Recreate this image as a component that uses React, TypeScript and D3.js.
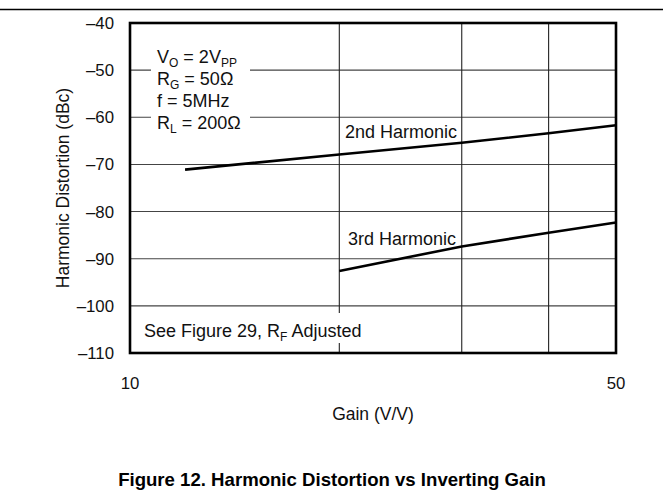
import * as d3 from 'd3';

const gain2nd = [12, 20, 30, 40, 50];
const hd2nd = [-71.1, -67.9, -65.4, -63.4, -61.7];
const gain3rd = [20, 30, 40, 50];
const hd3rd = [-92.6, -87.4, -84.5, -82.3];
const yTicks = [-40, -50, -60, -70, -80, -90, -100, -110];
const xGrid = [20, 30, 40];
const xTickLabels = [10, 50];

const W = 663;
const H = 495;
const FONT = 'Liberation Sans, Arial, sans-serif';

export default function App() {
  const x = d3.scaleLog().domain([10, 50]).range([130, 616]);
  const y = d3.scaleLinear().domain([-110, -40]).range([353, 23]);
  const line = d3
    .line<[number, number]>()
    .x((d) => x(d[0]))
    .y((d) => y(d[1]));
  const pts2 = gain2nd.map((g, i) => [g, hd2nd[i]] as [number, number]);
  const pts3 = gain3rd.map((g, i) => [g, hd3rd[i]] as [number, number]);

  return (
    <div style={{ position: 'fixed', left: 0, top: 0 }}>
      <svg width={W} height={H} viewBox={`0 0 ${W} ${H}`} style={{ display: 'block', background: '#fff' }} fontFamily={FONT}>
        <line x1={0} x2={W} y1={9.5} y2={9.5} stroke="#000" strokeWidth={1.6} />

        {/* grid */}
        {yTicks.slice(1, -1).map((t) => (
          <line key={t} x1={130} x2={616} y1={y(t)} y2={y(t)} stroke="#444" strokeWidth={1.1} />
        ))}
        {xGrid.map((g) => (
          <line key={g} x1={x(g)} x2={x(g)} y1={23} y2={353} stroke="#222" strokeWidth={1.1} />
        ))}

        {/* annotation backgrounds */}
        <rect x={151} y={45} width={99} height={88} fill="#fff" />
        <rect x={140} y={313} width={228} height={30} fill="#fff" />

        <path d={line(pts2) ?? undefined} fill="none" stroke="#000" strokeWidth={2.6} />
        <path d={line(pts3) ?? undefined} fill="none" stroke="#000" strokeWidth={2.6} />

        <rect x={130} y={23} width={486} height={330} fill="none" stroke="#000" strokeWidth={2.6} />

        {yTicks.map((t) => (
          <text key={t} x={114} y={y(t)} dy="0.36em" textAnchor="end" fontSize={16.8} fill="#111">
            {`\u2013${Math.abs(t)}`}
          </text>
        ))}
        {xTickLabels.map((t) => (
          <text key={t} x={x(t)} y={389} textAnchor="middle" fontSize={16.8} fill="#111">
            {t}
          </text>
        ))}
        <text x={373} y={420} textAnchor="middle" fontSize={17.5} fill="#111">Gain (V/V)</text>
        <text transform="translate(69,188) rotate(-90)" textAnchor="middle" fontSize={17.5} fill="#111">
          Harmonic Distortion (dBc)
        </text>

        <g fontSize={18} fill="#111">
          <text x={157} y={63}>
            V<tspan fontSize={12} dy={4}>O</tspan>
            <tspan dy={-4}> = 2V</tspan>
            <tspan fontSize={12} dy={4}>PP</tspan>
          </text>
          <text x={157} y={85}>
            R<tspan fontSize={12} dy={4}>G</tspan>
            <tspan dy={-4}> = 50Ω</tspan>
          </text>
          <text x={157} y={107}>f = 5MHz</text>
          <text x={157} y={129}>
            R<tspan fontSize={12} dy={4}>L</tspan>
            <tspan dy={-4}> = 200Ω</tspan>
          </text>
          <text x={345} y={138}>2nd Harmonic</text>
          <text x={348} y={245}>3rd Harmonic</text>
          <text x={144} y={337}>
            See Figure 29, R<tspan fontSize={12} dy={4}>F</tspan>
            <tspan dy={-4}> Adjusted</tspan>
          </text>
        </g>

        <text x={332} y={486} textAnchor="middle" fontSize={18.6} fontWeight="bold" fill="#000">
          Figure 12. Harmonic Distortion vs Inverting Gain
        </text>
      </svg>
    </div>
  );
}
